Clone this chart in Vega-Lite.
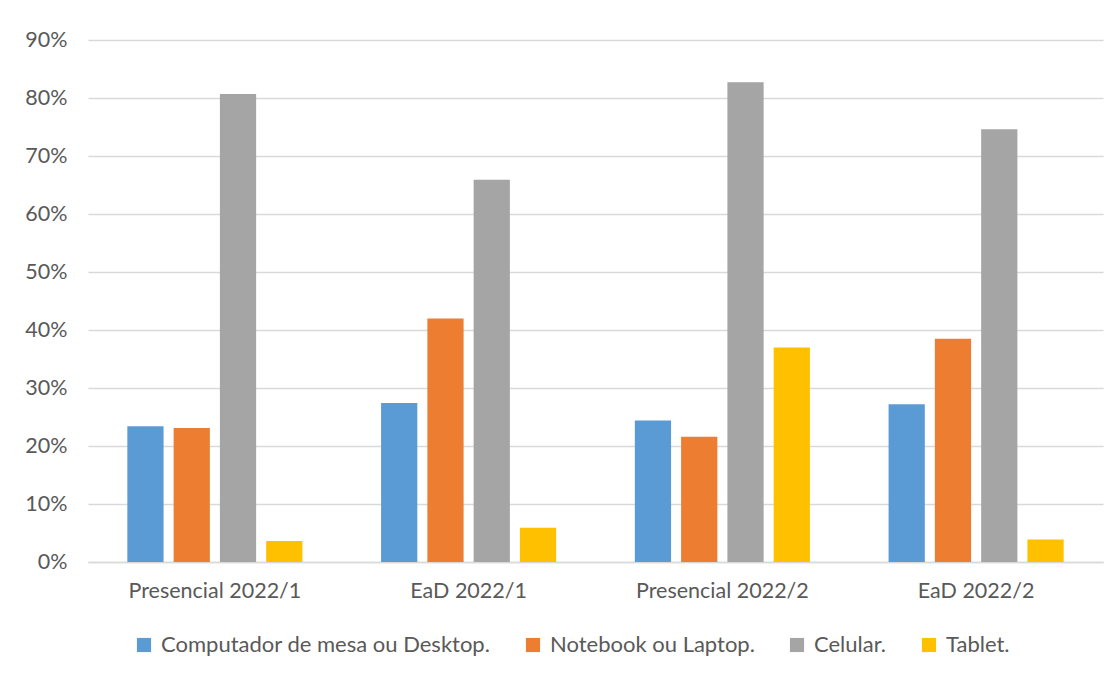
{
  "$schema": "https://vega.github.io/schema/vega-lite/v6.json",
  "width": 1015,
  "height": 522,
  "autosize": {"type": "none"},
  "padding": {"left": 88, "top": 40, "right": 15, "bottom": 115},
  "background": "white",
  "config": {
    "view": {"stroke": null},
    "font": "Lato",
    "axis": {"labelFont": "Lato", "labelColor": "#595959", "labelFontSize": 21.5},
    "legend": {"labelFont": "Lato", "labelColor": "#595959", "labelFontSize": 22, "labelLimit": 500}
  },
  "data": {
    "values": [
      {"grupo": "Presencial 2022/1", "dispositivo": "Computador de mesa ou Desktop.", "valor": 0.234},
      {"grupo": "Presencial 2022/1", "dispositivo": "Notebook ou Laptop.", "valor": 0.231},
      {"grupo": "Presencial 2022/1", "dispositivo": "Celular.", "valor": 0.807},
      {"grupo": "Presencial 2022/1", "dispositivo": "Tablet.", "valor": 0.036},
      {"grupo": "EaD 2022/1", "dispositivo": "Computador de mesa ou Desktop.", "valor": 0.274},
      {"grupo": "EaD 2022/1", "dispositivo": "Notebook ou Laptop.", "valor": 0.42},
      {"grupo": "EaD 2022/1", "dispositivo": "Celular.", "valor": 0.659},
      {"grupo": "EaD 2022/1", "dispositivo": "Tablet.", "valor": 0.059},
      {"grupo": "Presencial 2022/2", "dispositivo": "Computador de mesa ou Desktop.", "valor": 0.244},
      {"grupo": "Presencial 2022/2", "dispositivo": "Notebook ou Laptop.", "valor": 0.216},
      {"grupo": "Presencial 2022/2", "dispositivo": "Celular.", "valor": 0.827},
      {"grupo": "Presencial 2022/2", "dispositivo": "Tablet.", "valor": 0.37},
      {"grupo": "EaD 2022/2", "dispositivo": "Computador de mesa ou Desktop.", "valor": 0.272},
      {"grupo": "EaD 2022/2", "dispositivo": "Notebook ou Laptop.", "valor": 0.385},
      {"grupo": "EaD 2022/2", "dispositivo": "Celular.", "valor": 0.746},
      {"grupo": "EaD 2022/2", "dispositivo": "Tablet.", "valor": 0.039}
    ]
  },
  "mark": {"type": "bar"},
  "encoding": {
    "x": {
      "field": "grupo", "type": "nominal",
      "sort": ["Presencial 2022/1", "EaD 2022/1", "Presencial 2022/2", "EaD 2022/2"],
      "scale": {"paddingInner": 0.31, "paddingOuter": 0.155},
      "axis": {"title": null, "labelAngle": 0, "ticks": false, "domainColor": "#d9d9d9", "domainWidth": 1.5, "labelPadding": 18}
    },
    "xOffset": {
      "field": "dispositivo", "type": "nominal",
      "sort": ["Computador de mesa ou Desktop.", "Notebook ou Laptop.", "Celular.", "Tablet."],
      "scale": {"paddingInner": 0.217, "paddingOuter": 0}
    },
    "y": {
      "field": "valor", "type": "quantitative",
      "scale": {"domain": [0, 0.9]},
      "axis": {"title": null, "format": ".0%", "values": [0, 0.1, 0.2, 0.3, 0.4, 0.5, 0.6, 0.7, 0.8, 0.9], "domain": false, "ticks": false, "gridColor": "#d9d9d9", "gridWidth": 1.5, "labelPadding": 21}
    },
    "color": {
      "field": "dispositivo", "type": "nominal",
      "scale": {
        "domain": ["Computador de mesa ou Desktop.", "Notebook ou Laptop.", "Celular.", "Tablet."],
        "range": ["#5B9BD5", "#ED7D31", "#A5A5A5", "#FFC000"]
      },
      "legend": {"title": null, "orient": "none", "legendX": 45, "legendY": 594, "direction": "horizontal", "symbolType": "square", "symbolSize": 200, "symbolStrokeWidth": 0, "columnPadding": 31, "labelOffset": 6}
    }
  }
}
